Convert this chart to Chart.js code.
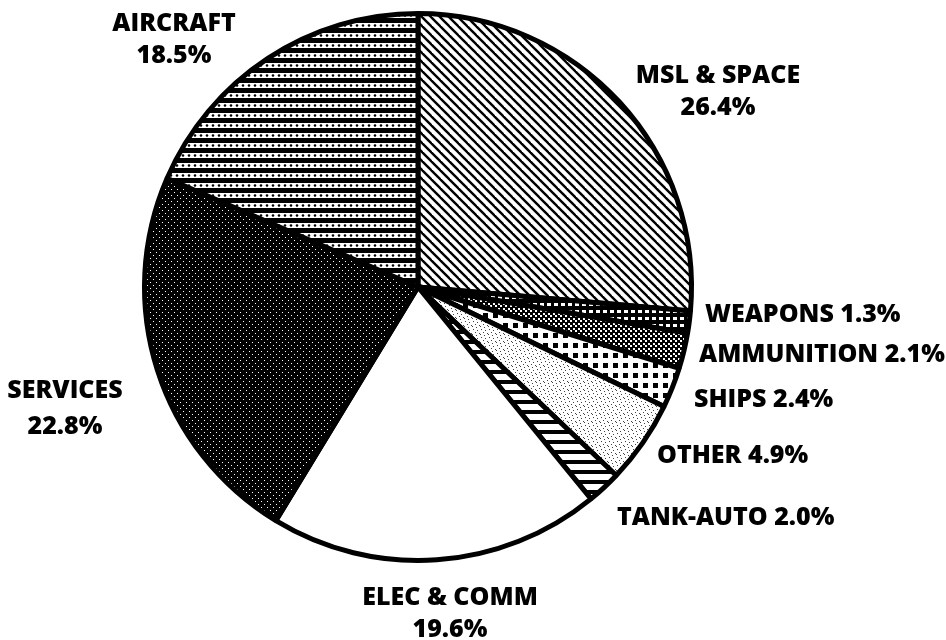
<!DOCTYPE html>
<html>
<head>
<meta charset="utf-8">
<script src="https://cdn.jsdelivr.net/npm/chart.js@4"></script>
<style>
  html, body { margin: 0; padding: 0; background: #fff; }
  #wrap { width: 946px; height: 640px; }
</style>
</head>
<body>
<div id="wrap"><canvas id="pieChart" width="946" height="640"></canvas></div>
<script>
// slices, clockwise from 12 o'clock
const categories = ['MSL & SPACE', 'WEAPONS', 'AMMUNITION', 'SHIPS', 'OTHER',
    'TANK-AUTO', 'ELEC & COMM', 'SERVICES', 'AIRCRAFT']
const shares = [26.4, 1.3, 2.1, 2.4, 4.9, 2.0, 19.6, 22.8, 18.5]

// where each label sits (baselines), two entries = name and percent on separate lines
const labelSpots = [
    { x: 718, y: [83, 115], align: 'center' },
    { x: 705, y: [322], align: 'left' },
    { x: 699, y: [362], align: 'left' },
    { x: 694, y: [407], align: 'left' },
    { x: 657, y: [463], align: 'left' },
    { x: 617, y: [525], align: 'left' },
    { x: 450, y: [605, 637], align: 'center' },
    { x: 65, y: [398, 434], align: 'center' },
    { x: 174, y: [31, 63], align: 'center' }
]

function makePattern(w, h, draw) {
    const c = document.createElement('canvas')
    c.width = w
    c.height = h
    const g = c.getContext('2d')
    draw(g, w, h)
    return g.createPattern(c, 'repeat')
}

const patMsl = makePattern(9, 9, (g, w, h) => {
    g.fillStyle = '#fff'; g.fillRect(0, 0, w, h)
    g.strokeStyle = '#000'; g.lineWidth = 2.4
    for (const o of [-9, 0, 9]) {
        g.beginPath(); g.moveTo(o - 1, -1); g.lineTo(o + w + 1, h + 1); g.stroke()
    }
})
const patWeapons = makePattern(7, 7, (g, w, h) => {
    g.fillStyle = '#000'; g.fillRect(0, 0, w, h)
    g.fillStyle = '#fff'; g.fillRect(1, 2, 4, 3)
})
const patAmmo = makePattern(5, 5, (g, w, h) => {
    g.fillStyle = '#000'; g.fillRect(0, 0, w, h)
    g.fillStyle = '#fff'; g.fillRect(0, 0, 2, 2); g.fillRect(3, 3, 2, 2)
})
const patShips = makePattern(10, 10, (g, w, h) => {
    g.fillStyle = '#fff'; g.fillRect(0, 0, w, h)
    g.fillStyle = '#000'; g.fillRect(3, 3, 5, 5)
})
const patOther = makePattern(8, 8, (g, w, h) => {
    g.fillStyle = '#fff'; g.fillRect(0, 0, w, h)
    g.fillStyle = '#444'
    ;[[1, 1], [5, 2], [3, 4], [7, 5], [0, 6], [4, 7]].forEach(p => g.fillRect(p[0], p[1], 1, 1))
})
const patTank = makePattern(8, 10, (g, w, h) => {
    g.fillStyle = '#fff'; g.fillRect(0, 0, w, h)
    g.fillStyle = '#000'; g.fillRect(0, 0, w, 4)
})
const patServices = makePattern(6, 6, (g, w, h) => {
    g.fillStyle = '#000'; g.fillRect(0, 0, w, h)
    g.fillStyle = '#fff'; g.fillRect(0, 0, 1, 1); g.fillRect(3, 3, 1, 1)
})
const patAircraft = makePattern(6, 10, (g, w, h) => {
    g.fillStyle = '#000'; g.fillRect(0, 0, w, h)
    g.fillStyle = '#fff'; g.fillRect(0, 3, w, 5)
    g.fillStyle = '#000'; g.beginPath(); g.arc(3, 5.5, 1.3, 0, Math.PI * 2); g.fill()
})

const fills = [patMsl, patWeapons, patAmmo, patShips, patOther, patTank, '#fff', patServices, patAircraft]

const sliceLabels = {
    id: 'sliceLabels',
    afterDraw(chart) {
        const c = chart.ctx
        c.save()
        c.fillStyle = '#000'
        c.font = '800 25px "Open Sans", sans-serif'
        c.textBaseline = 'alphabetic'
        chart.data.labels.forEach((name, i) => {
            const s = labelSpots[i]
            const pct = shares[i].toFixed(1) + '%'
            c.textAlign = s.align
            if (s.y.length > 1) {
                c.fillText(name, s.x, s.y[0])
                c.fillText(pct, s.x, s.y[1])
            } else {
                c.fillText(name + ' ' + pct, s.x, s.y[0])
            }
        })
        c.restore()
    }
}

const pieCtx = document.getElementById('pieChart').getContext('2d')
const pieChart = new Chart(pieCtx, {
    type: 'pie',
    data: {
        labels: categories,
        datasets: [{
            data: shares,
            backgroundColor: fills,
            borderColor: '#000',
            borderWidth: 5
        }]
    },
    options: {
        responsive: false,
        animation: false,
        layout: {
            padding: { left: 142, top: 11, right: 252, bottom: 77 }
        },
        plugins: {
            legend: { display: false },
            tooltip: { enabled: false }
        }
    },
    plugins: [sliceLabels]
})
</script>
</body>
</html>
